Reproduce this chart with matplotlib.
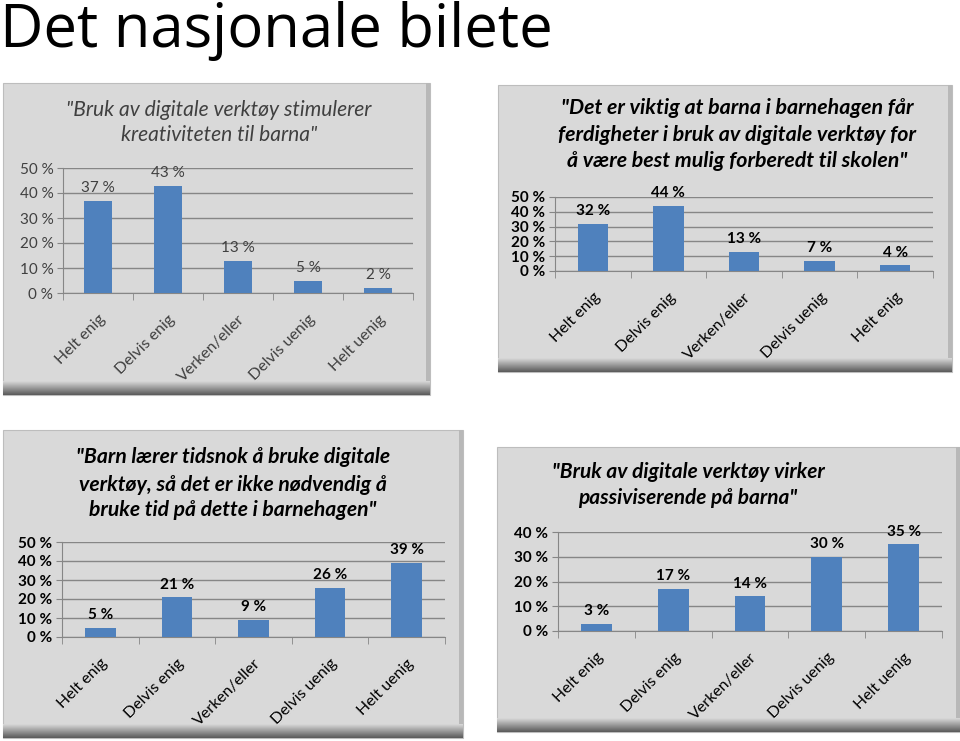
import numpy as np
import matplotlib
matplotlib.use("Agg")
import matplotlib.pyplot as plt
from matplotlib.patches import Rectangle

plt.rcParams['font.family'] = ['Lato', 'DejaVu Sans']

W, H = 960, 741

# data
categories = ["Helt enig", "Delvis enig", "Verken/eller", "Delvis uenig", "Helt uenig"]
categories_p2 = ["Helt enig", "Delvis enig", "Verken/eller", "Delvis uenig", "Helt enig"]

values_p1 = [37, 43, 13, 5, 2]
values_p2 = [32, 44, 13, 7, 4]
values_p3 = [5, 21, 9, 26, 39]
values_p4 = [3, 17, 14, 30, 35]

title_p1 = ['"Bruk av digitale verktøy stimulerer', 'kreativiteten til barna"']
title_p2 = ['"Det er viktig at barna i barnehagen får',
            'ferdigheter i bruk av digitale verktøy for',
            'å være best mulig forberedt til skolen"']
title_p3 = ['"Barn lærer tidsnok å bruke digitale',
            'verktøy, så det er ikke nødvendig å',
            'bruke tid på dette i barnehagen"']
title_p4 = ['"Bruk av digitale verktøy virker', 'passiviserende på barna"']

BAR = '#4f81bd'
GRID = '#868686'
BG = '#d9d9d9'

# panel layout in pixels
panels = [
    dict(box=(3, 83, 430, 395), plot=(63, 168, 413, 293), ymax=50,
         cats=categories, vals=values_p1, title=title_p1, tx=219, ty=[110, 135],
         bold=False, tsize=15.1),
    dict(box=(498, 85, 952, 372), plot=(555, 197, 933, 271), ymax=50,
         cats=categories_p2, vals=values_p2, title=title_p2, tx=737, ty=[108, 135, 161],
         bold=True, tsize=15.4),
    dict(box=(3, 430, 463, 738), plot=(62, 542, 445, 637), ymax=50,
         cats=categories, vals=values_p3, title=title_p3, tx=233, ty=[457, 485, 510],
         bold=True, tsize=15.2),
    dict(box=(497, 447, 960, 732), plot=(558, 532, 942, 631), ymax=40,
         cats=categories, vals=values_p4, title=title_p4, tx=688, ty=[472, 498],
         bold=True, tsize=15.0),
]

fig = plt.figure(figsize=(W / 100, H / 100), dpi=100)
fig.patch.set_facecolor('white')

bg = fig.add_axes([0, 0, 1, 1])
bg.set_xlim(0, W)
bg.set_ylim(H, 0)
bg.axis('off')

fig.text(0 / W, 1 - 47 / H, "Det nasjonale bilete", fontsize=43, family='Open Sans',
         va='baseline', ha='left', color='black')

for p in panels:
    x0, y0, x1, y1 = p['box']
    bg.add_patch(Rectangle((x0, y0), x1 - x0, y1 - y0, facecolor=BG,
                           edgecolor='#bdbdbd', linewidth=0.8, zorder=1))
    # right edge shading
    bg.add_patch(Rectangle((x1 - 4, y0), 4, y1 - y0, facecolor='#b8b8b8',
                           edgecolor='none', zorder=2))
    # bottom shadow gradient
    grad = np.linspace(0, 1, 50).reshape(-1, 1)
    bg.imshow(grad, extent=(x0, x1, y1, y1 - 14), aspect='auto',
              cmap=matplotlib.colors.LinearSegmentedColormap.from_list('sh', [BG, '#5a5a5a']),
              zorder=3)

    px0, py0, px1, py1 = p['plot']
    ax = fig.add_axes([px0 / W, 1 - py1 / H, (px1 - px0) / W, (py1 - py0) / H])
    ax.set_facecolor('none')
    n = len(p['vals'])
    x = np.arange(n)
    ax.bar(x, p['vals'], width=0.4, color=BAR, zorder=3)
    ax.set_xlim(-0.5, n - 0.5)
    ax.set_ylim(0, p['ymax'])
    ticks = np.arange(0, p['ymax'] + 1, 10)
    ax.set_yticks(ticks)
    weight = 'bold' if p['bold'] else 'normal'
    tcol = 'black' if p['bold'] else '#404040'
    ax.set_yticklabels([f"{t} %" for t in ticks], fontsize=11, fontweight=weight, color=tcol)
    ax.set_xticks(x)
    ax.set_xticklabels(p['cats'], rotation=45, ha='right', rotation_mode='anchor',
                       fontsize=11.5, color=tcol)
    ax.set_xticks(np.arange(-0.5, n, 1), minor=True)
    ax.tick_params(axis='x', which='major', length=0, pad=14)
    ax.tick_params(axis='x', which='minor', length=5, color=GRID)
    ax.tick_params(axis='y', length=4, color=GRID, pad=3)
    ax.grid(axis='y', color=GRID, linewidth=1, zorder=0)
    ax.set_axisbelow(True)
    for s in ['top', 'right']:
        ax.spines[s].set_visible(False)
    for s in ['left', 'bottom']:
        ax.spines[s].set_color(GRID)
    for xi, v in zip(x, p['vals']):
        ax.annotate(f"{v} %", (xi, v), xytext=(0, 4), textcoords='offset points',
                    ha='center', va='bottom', fontsize=11, fontweight=weight, color=tcol)

    for line, ty in zip(p['title'], p['ty']):
        fig.text(p['tx'] / W, 1 - ty / H, line, ha='center', va='center',
                 fontsize=p['tsize'], style='italic', fontweight=weight,
                 color='black' if p['bold'] else '#404040')

fig.savefig('out.png', dpi=100)
